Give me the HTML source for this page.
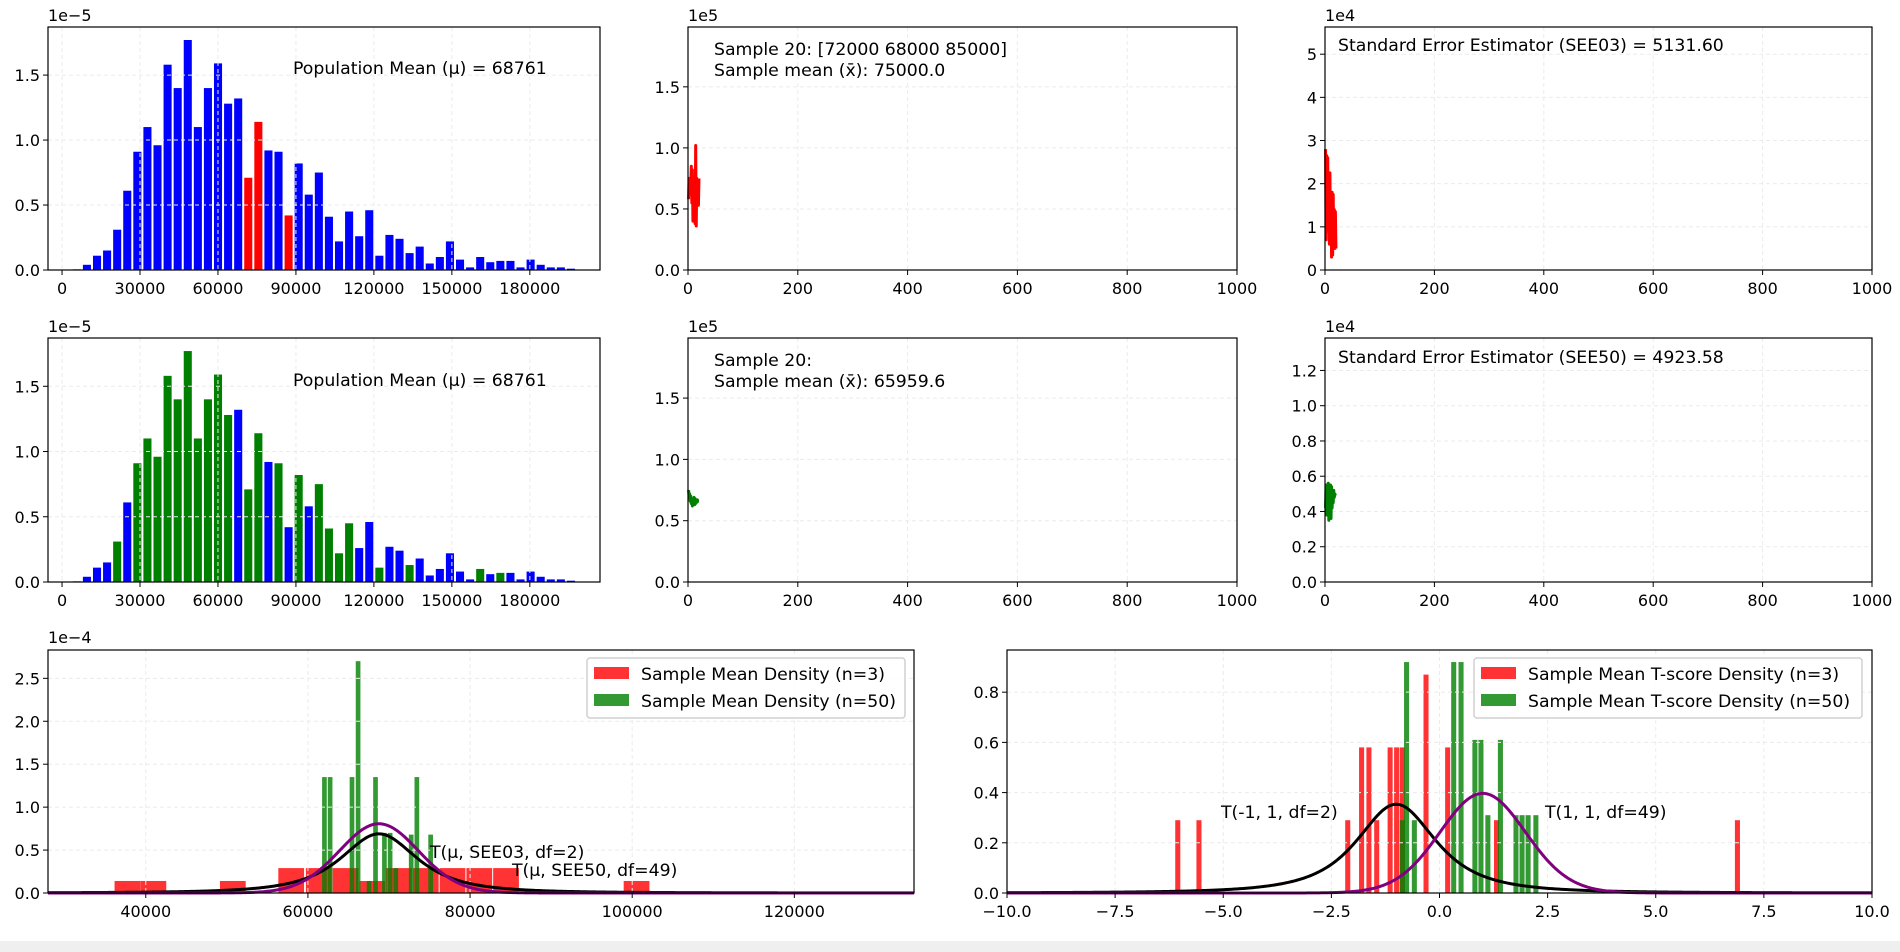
<!DOCTYPE html>
<html><head><meta charset="utf-8"><style>
html,body{margin:0;padding:0;background:#fff;}
svg{display:block;font-family:"DejaVu Sans","Liberation Sans",sans-serif;}
</style></head><body>
<svg id="fig" width="1900" height="952" viewBox="0 0 1900 952" xmlns="http://www.w3.org/2000/svg">
<rect x="0" y="0" width="1900" height="952" fill="#fff"/>
<rect x="0" y="941" width="1900" height="11" fill="#efefef"/>
</svg>
<script>
// ---- data ----
const histHeights = [0.005,0.04,0.11,0.15,0.31,0.61,0.91,1.10,0.96,1.58,1.40,1.77,1.10,1.40,1.59,1.28,1.32,0.71,1.14,0.92,0.91,0.42,0.82,0.58,0.75,0.41,0.22,0.45,0.26,0.46,0.11,0.27,0.24,0.13,0.18,0.05,0.10,0.22,0.08,0.02,0.10,0.06,0.07,0.07,0.02,0.08,0.04,0.02,0.02,0.01];
const histStart = 5700;
const histStep = 3880;
const redIdx1 = [17,18,21];
const greenIdx2 = [4,6,7,8,9,10,11,12,13,14,15,17,18,20,22,24,25,26,27,30,33,40,42];
const histXTicks = [0,30000,60000,90000,120000,150000,180000];
const histYTicks = [0,0.5,1.0,1.5];

const meanLine1 = [0.58,0.75,0.62,0.72,0.68,0.85,0.55,0.82,0.40,0.70,0.45,0.62,0.38,1.02,0.36,0.75,0.55,0.72,0.53,0.75];
const seLine1 = [2.8,0.7,2.65,0.9,2.6,0.95,2.25,0.6,2.25,0.65,1.8,0.3,1.8,0.35,1.75,0.5,1.4,0.5,1.35,0.5];
const meanLine2 = [0.75,0.70,0.72,0.66,0.70,0.64,0.68,0.62,0.67,0.65,0.69,0.63,0.68,0.64,0.66,0.65,0.67,0.66,0.66,0.66];
const seLine2 = [0.42,0.55,0.38,0.52,0.45,0.56,0.35,0.50,0.40,0.55,0.36,0.54,0.42,0.50,0.45,0.52,0.48,0.50,0.49,0.49];
const sampleXTicks = [0,200,400,600,800,1000];
const meanYTicks = [0,0.5,1.0,1.5];
const se1YTicks = [0,1,2,3,4,5];
const se2YTicks = [0,0.2,0.4,0.6,0.8,1.0,1.2];

const densRedX = [37800,41000,50800,58000,61400,64700,68000,71300,74600,77900,81200,84500,100600];
const densRedH = [0.14,0.14,0.14,0.29,0.29,0.29,0.14,0.29,0.29,0.29,0.29,0.29,0.14];
const densGreenX = [62100,62800,65500,66250,67600,68400,69500,70200,70900,72800,73500,75200];
const densGreenH = [1.35,1.35,1.35,2.70,0.14,1.35,0.70,0.70,0.29,0.68,1.35,0.68];
const densXTicks = [40000,60000,80000,100000,120000];
const densYTicks = [0,0.5,1.0,1.5,2.0,2.5];
const popMean = 68761;
const see03 = 5131.60;
const see50 = 4923.58;

const tRedX = [-6.04,-5.55,-2.11,-1.79,-1.62,-1.44,-1.13,-0.98,-0.85,-0.30,0.20,1.33,6.9];
const tRedH = [0.29,0.29,0.29,0.58,0.58,0.29,0.58,0.58,0.58,0.87,0.58,0.29,0.29];
const tGreenX = [-0.85,-0.75,-0.57,0.34,0.51,0.83,0.97,1.13,1.42,1.78,1.92,2.06,2.24];
const tGreenH = [0.29,0.92,0.29,0.92,0.92,0.61,0.61,0.31,0.61,0.31,0.31,0.31,0.31];
const tXTicks = [-10,-7.5,-5,-2.5,0,2.5,5,7.5,10];
const tYTicks = [0,0.2,0.4,0.6,0.8];

// ---- helpers ----
const svg = document.getElementById('fig');
const NS = 'http://www.w3.org/2000/svg';
const LABEL_FS = 17.3;
function mk(tag, attrs, parent){
  const e = document.createElementNS(NS, tag);
  for (const k in attrs) e.setAttribute(k, attrs[k]);
  (parent||svg).appendChild(e);
  return e;
}
function axes(x0,x1,y0,y1,xmin,xmax,ymin,ymax){
  return {x0,x1,y0,y1,xmin,xmax,ymin,ymax,
    sx:v=>x0+(v-xmin)/(xmax-xmin)*(x1-x0),
    sy:v=>y1-(v-ymin)/(ymax-ymin)*(y1-y0)};
}
function fmt(v,dec){ const s=v.toFixed(dec); return s.replace('-','\u2212'); }
function grid(ax, xt, yt){
  const g = mk('g',{});
  
  
  xt.forEach(v=>{ const X=ax.sx(v); if(X<ax.x0-0.5||X>ax.x1+0.5) return;
    mk('line',{x1:X,x2:X,y1:ax.y0,y2:ax.y1,stroke:'#ebebeb','stroke-width':1,'stroke-dasharray':'4,3'},g);});
  yt.forEach(v=>{ const Y=ax.sy(v);
    mk('line',{x1:ax.x0,x2:ax.x1,y1:Y,y2:Y,stroke:'#ebebeb','stroke-width':1,'stroke-dasharray':'4,3'},g);});
}
function frame(ax, xt, yt, xdec, ydec, name){
  const f = mk('rect',{x:ax.x0,y:ax.y0,width:ax.x1-ax.x0,height:ax.y1-ax.y0,fill:'none',stroke:'#000','stroke-width':1.2});
  
  
  const gx = mk('g',{});
  
  
  xt.forEach(v=>{ const X=ax.sx(v);
    mk('line',{x1:X,x2:X,y1:ax.y1,y2:ax.y1+5,stroke:'#000','stroke-width':1},gx);
    const t=mk('text',{x:X,y:ax.y1+24,'text-anchor':'middle','font-size':16,fill:'#000'},gx);
    t.textContent=fmt(v,xdec);});
  const gy = mk('g',{});
  
  
  yt.forEach(v=>{ const Y=ax.sy(v);
    mk('line',{x1:ax.x0-5,x2:ax.x0,y1:Y,y2:Y,stroke:'#000','stroke-width':1},gy);
    const t=mk('text',{x:ax.x0-8,y:Y+6,'text-anchor':'end','font-size':16,fill:'#000'},gy);
    t.textContent=fmt(v,ydec);});
}
function label(x,y,str,name,fs){
  const t = mk('text',{x:x,y:y,'font-size':fs||LABEL_FS,fill:'#000'});
  t.textContent = str;
  
  
  return t;
}
function lgamma(z){
  const c=[76.18009172947146,-86.50532032941677,24.01409824083091,-1.231739572450155,0.1208650973866179e-2,-0.5395239384953e-5];
  let x=z,y=z,tmp=x+5.5; tmp-=(x+0.5)*Math.log(tmp); let ser=1.000000000190015;
  for(let j=0;j<6;j++) ser+=c[j]/++y;
  return -tmp+Math.log(2.5066282746310005*ser/x);
}
function tpdf(x,df,loc,scale){
  const t=(x-loc)/scale;
  const lc=lgamma((df+1)/2)-lgamma(df/2)-0.5*Math.log(df*Math.PI);
  return Math.exp(lc-(df+1)/2*Math.log(1+t*t/df))/scale;
}
function curve(ax, df, loc, scale, mult, color, name){
  let d='';
  for(let i=0;i<=600;i++){
    const v=ax.xmin+(ax.xmax-ax.xmin)*i/600;
    const X=ax.sx(v), Y=ax.sy(tpdf(v,df,loc,scale)*mult);
    d+=(i?'L':'M')+X.toFixed(2)+','+Y.toFixed(2);
  }
  const p=mk('path',{d:d,fill:'none',stroke:color,'stroke-width':3});
  
  
}

// ---- histograms (row 1 & 2) ----
function hist(ax, colorFn, name){
  const g = mk('g',{});
  
  
  histHeights.forEach((h,i)=>{
    const c=histStart+i*histStep, w=histStep*0.8;
    const X=ax.sx(c-w/2), W=ax.sx(c+w/2)-X;
    const r=mk('rect',{x:X,y:ax.sy(h),width:W,height:ax.sy(0)-ax.sy(h),fill:colorFn(i)},g);
    
    
  });
}
const ax1 = axes(48,600,27,270,-5400,207000,0,1.87);
hist(ax1, i=>redIdx1.includes(i)?'#ff0000':'#0000ff','population-hist-top');
grid(ax1, histXTicks, histYTicks);
frame(ax1, histXTicks, histYTicks, 0, 1, 'population-hist-top');
label(48,21,'1e\u22125','offset-label-top-hist',16);
label(293,74,'Population Mean (\u03bc) = 68761','population-mean-label-top');

const ax4 = axes(48,600,338,582,-5400,207000,0,1.87);
hist(ax4, i=>greenIdx2.includes(i)?'#008000':'#0000ff','population-hist-bottom');
grid(ax4, histXTicks, histYTicks);
frame(ax4, histXTicks, histYTicks, 0, 1, 'population-hist-bottom');
label(48,332,'1e\u22125','offset-label-mid-hist',16);
label(293,386,'Population Mean (\u03bc) = 68761','population-mean-label-mid');

// ---- line charts ----
function lineChart(ax, vals, color, name){
  let d='';
  vals.forEach((v,i)=>{ d+=(i?'L':'M')+ax.sx(i+1).toFixed(2)+','+ax.sy(v).toFixed(2); });
  const p=mk('path',{d:d,fill:'none',stroke:color,'stroke-width':3,'stroke-linejoin':'round'});
  
  
}
const ax2 = axes(688,1237,27,270,0,1000,0,1.99);
grid(ax2, sampleXTicks, meanYTicks);
lineChart(ax2, meanLine1, '#ff0000', 'sample-mean-line-n3');
frame(ax2, sampleXTicks, meanYTicks, 0, 1, 'sample-mean-n3');
label(688,21,'1e5','offset-label-mean-n3',16);
label(714,55,'Sample 20: [72000 68000 85000]','sample-values-label-n3');
label(714,76,'Sample mean (x\u0304): 75000.0','sample-mean-label-n3');

const ax3 = axes(1325,1872,27,270,0,1000,0,5.63);
grid(ax3, sampleXTicks, se1YTicks);
lineChart(ax3, seLine1, '#ff0000', 'se-line-n3');
frame(ax3, sampleXTicks, se1YTicks, 0, 0, 'se-n3');
label(1325,21,'1e4','offset-label-se-n3',16);
label(1338,51,'Standard Error Estimator (SEE03) = 5131.60','see03-label');

const ax5 = axes(688,1237,338,582,0,1000,0,1.99);
grid(ax5, sampleXTicks, meanYTicks);
lineChart(ax5, meanLine2, '#008000', 'sample-mean-line-n50');
frame(ax5, sampleXTicks, meanYTicks, 0, 1, 'sample-mean-n50');
label(688,332,'1e5','offset-label-mean-n50',16);
label(714,366,'Sample 20:','sample-values-label-n50');
label(714,387,'Sample mean (x\u0304): 65959.6','sample-mean-label-n50');

const ax6 = axes(1325,1872,338,582,0,1000,0,1.384);
grid(ax6, sampleXTicks, se2YTicks);
lineChart(ax6, seLine2, '#008000', 'se-line-n50');
frame(ax6, sampleXTicks, se2YTicks, 0, 1, 'se-n50');
label(1325,332,'1e4','offset-label-se-n50',16);
label(1338,363,'Standard Error Estimator (SEE50) = 4923.58','see50-label');

// ---- density charts ----
function bars(ax, xs, hs, w, color, name){
  const g = mk('g',{});
  
  
  xs.forEach((c,i)=>{
    const X=ax.sx(c-w/2), W=ax.sx(c+w/2)-X;
    const r=mk('rect',{x:X,y:ax.sy(hs[i]),width:Math.max(W-1,1),height:ax.sy(0)-ax.sy(hs[i]),fill:color,'fill-opacity':0.8},g);
    
    
  });
}
function legend(x,y,w,items,name){
  const g = mk('g',{});
  
  
  mk('rect',{x:x,y:y,width:w,height:60,rx:3,fill:'#fff','fill-opacity':0.85,stroke:'#d0d0d0','stroke-width':1.5},g);
  items.forEach((it,i)=>{
    const r=mk('rect',{x:x+7,y:y+9+i*27,width:35,height:12,fill:it[1],'fill-opacity':0.8},g);
    
    
    const t=mk('text',{x:x+54,y:y+22+i*27,'font-size':LABEL_FS,fill:'#000'},g);
    t.textContent=it[0];
    
    
  });
}
const ax7 = axes(48,914,650,893,27940,134760,0,2.83);
bars(ax7, densRedX, densRedH, 3300, '#ff0000', 'density-bars-n3');
bars(ax7, densGreenX, densGreenH, 700, '#008000', 'density-bars-n50');
grid(ax7, densXTicks, densYTicks);
curve(ax7, 2, popMean, see03, 1e4, '#000000', 't-curve-see03');
curve(ax7, 49, popMean, see50, 1e4, '#800080', 't-curve-see50');
frame(ax7, densXTicks, densYTicks, 0, 1, 'sample-mean-density');
label(48,643,'1e\u22124','offset-label-density',16);
label(430,858,'T(\u03bc, SEE03, df=2)','t-label-see03');
label(512,876,'T(\u03bc, SEE50, df=49)','t-label-see50');
legend(587,658,318,[['Sample Mean Density (n=3)','#ff0000'],['Sample Mean Density (n=50)','#008000']],'legend-density');

const ax8 = axes(1007,1872,650,893,-10,10,0,0.968);
bars(ax8, tRedX, tRedH, 0.14, '#ff0000', 'tscore-bars-n3');
bars(ax8, tGreenX, tGreenH, 0.14, '#008000', 'tscore-bars-n50');
grid(ax8, tXTicks, tYTicks);
curve(ax8, 2, -1, 1, 1, '#000000', 't-curve-df2');
curve(ax8, 49, 1, 1, 1, '#800080', 't-curve-df49');
frame(ax8, tXTicks, tYTicks, 1, 1, 'tscore-density');
label(1221,818,'T(-1, 1, df=2)','t-label-df2');
label(1545,818,'T(1, 1, df=49)','t-label-df49');
legend(1474,658,388,[['Sample Mean T-score Density (n=3)','#ff0000'],['Sample Mean T-score Density (n=50)','#008000']],'legend-tscore');
</script>
</body></html>
